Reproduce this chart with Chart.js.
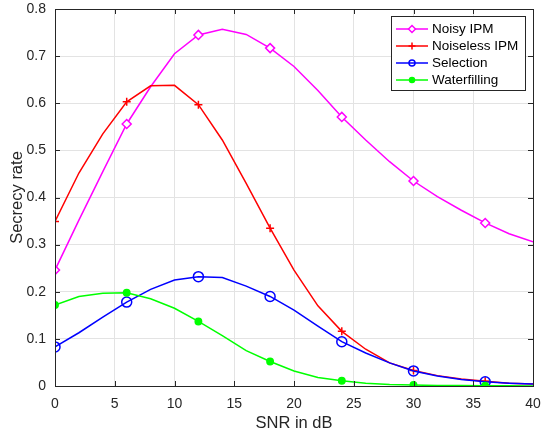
<!DOCTYPE html>
<html>
<head>
<meta charset="utf-8">
<script src="https://cdn.jsdelivr.net/npm/chart.js@4/dist/chart.umd.min.js"></script>
<style>
  html, body { margin: 0; padding: 0; background: #fff; }
  #wrap { width: 544px; height: 434px; }
</style>
</head>
<body>
<div id="wrap"><canvas id="chart" width="544" height="434"></canvas></div>
<script>
// SNR grid (dB), markers every 3rd sample
const snr = [0, 2, 4, 6, 8, 10, 12, 14, 16, 18, 20, 22, 24, 26, 28, 30, 32, 34, 36, 38, 40]
const noisyIPM = [0.246, 0.352, 0.455, 0.556, 0.635, 0.705, 0.745, 0.757, 0.746, 0.717, 0.678, 0.627, 0.571, 0.522, 0.476, 0.435, 0.402, 0.373, 0.346, 0.323, 0.306]
const noiselessIPM = [0.349, 0.452, 0.535, 0.603, 0.637, 0.638, 0.597, 0.522, 0.43, 0.335, 0.246, 0.17, 0.116, 0.078, 0.049, 0.033, 0.022, 0.015, 0.01, 0.006, 0.004]
const selection = [0.083, 0.113, 0.146, 0.178, 0.205, 0.225, 0.232, 0.23, 0.212, 0.19, 0.161, 0.127, 0.094, 0.07, 0.049, 0.032, 0.021, 0.014, 0.009, 0.006, 0.004]
const waterfilling = [0.172, 0.19, 0.197, 0.198, 0.185, 0.165, 0.137, 0.107, 0.075, 0.052, 0.032, 0.018, 0.011, 0.006, 0.003, 0.002, 0.001, 0.001, 0.0005, 0.0003, 0.0002]
const seriesNames = ["Noisy IPM", "Noiseless IPM", "Selection", "Waterfilling"]
const xTicks = [0, 5, 10, 15, 20, 25, 30, 35, 40]
const yTicks = [0, 0.1, 0.2, 0.3, 0.4, 0.5, 0.6, 0.7, 0.8]

const FONT = "'Liberation Sans', Arial, Helvetica, sans-serif"
const AXIS = '#262626'

function pts(arr) {
  return arr.map((v, i) => ({x: snr[i], y: v}))
}
function markerEvery3(r) {
  return ctx => (ctx.dataIndex % 3 === 0 ? r : 0)
}

const styles = [
  {color: '#ff00ff', pointStyle: 'rectRot', r: 4.5, lr: 3.5, fill: '#fff'},
  {color: '#ff0000', pointStyle: 'cross', r: 4, lr: 3.5, fill: '#ff0000'},
  {color: '#0000ff', pointStyle: 'circle', r: 5, lr: 3, fill: 'rgba(0,0,0,0)'},
  {color: '#00ff00', pointStyle: 'circle', r: 3.2, lr: 2.5, fill: '#00ff00'}
]
const values = [noisyIPM, noiselessIPM, selection, waterfilling]

const datasets = values.map((v, k) => ({
  label: seriesNames[k],
  data: pts(v),
  borderColor: styles[k].color,
  backgroundColor: styles[k].fill,
  borderWidth: 1.5,
  pointStyle: styles[k].pointStyle,
  pointRadius: markerEvery3(styles[k].r),
  pointHoverRadius: 0,
  pointBorderWidth: 1.5,
  pointBorderColor: styles[k].color,
  pointBackgroundColor: styles[k].fill,
  tension: 0,
  order: 4 - k
}))

// matlab style box, inward ticks, axis titles and legend
const matlabFrame = {
  id: 'matlabFrame',
  afterDraw(chart) {
    const c = chart.ctx
    const a = chart.chartArea
    const xs = chart.scales.x, ys = chart.scales.y
    c.save()
    c.strokeStyle = AXIS
    c.lineWidth = 1
    c.strokeRect(Math.round(a.left) + 0.5, Math.round(a.top) + 0.5, Math.round(a.right - a.left), Math.round(a.bottom - a.top))
    const tl = 5
    c.beginPath()
    xTicks.forEach(t => {
      const px = Math.round(xs.getPixelForValue(t)) + 0.5
      c.moveTo(px, a.bottom); c.lineTo(px, a.bottom - tl)
      c.moveTo(px, a.top); c.lineTo(px, a.top + tl)
    })
    yTicks.forEach(t => {
      const py = Math.round(ys.getPixelForValue(t)) + 0.5
      c.moveTo(a.left, py); c.lineTo(a.left + tl, py)
      c.moveTo(a.right, py); c.lineTo(a.right - tl, py)
    })
    c.stroke()

    // axis titles
    c.fillStyle = AXIS
    c.font = '16.5px ' + FONT
    c.textAlign = 'center'
    c.textBaseline = 'middle'
    c.fillText('SNR in dB', (a.left + a.right) / 2, 423)
    c.save()
    c.translate(17, (a.top + a.bottom) / 2)
    c.rotate(-Math.PI / 2)
    c.fillText('Secrecy rate', 0, 0)
    c.restore()

    // legend
    const bx = 391, by = 16, bw = 134, bh = 74
    c.fillStyle = '#fff'
    c.fillRect(bx, by, bw, bh)
    c.strokeStyle = AXIS
    c.lineWidth = 1
    c.strokeRect(bx + 0.5, by + 0.5, bw, bh)
    c.font = '13.5px ' + FONT
    c.textAlign = 'left'
    seriesNames.forEach((name, k) => {
      const y = 29 + k * 17
      c.strokeStyle = styles[k].color
      c.lineWidth = 1.5
      c.beginPath()
      c.moveTo(396, y); c.lineTo(428, y)
      c.stroke()
      c.fillStyle = styles[k].fill
      c.strokeStyle = styles[k].color
      Chart.helpers.drawPoint(c, {
        pointStyle: styles[k].pointStyle,
        radius: styles[k].lr,
        borderWidth: 1.5,
        rotation: 0
      }, 412, y)
      c.fillStyle = '#000'
      c.fillText(name, 432, y + 0.5)
    })
    c.restore()
  }
}

new Chart(document.getElementById('chart'), {
  type: 'line',
  data: {datasets: datasets},
  options: {
    responsive: false,
    animation: false,
    layout: {padding: {top: 9, right: 11, left: 0, bottom: 0}},
    plugins: {
      legend: {display: false},
      tooltip: {enabled: false}
    },
    scales: {
      x: {
        type: 'linear',
        min: 0,
        max: 40,
        afterFit(scale) {
          scale.height = 48
          scale.paddingLeft = 0
          scale.paddingRight = 0
        },
        afterBuildTicks(scale) { scale.ticks = xTicks.map(v => ({value: v})) },
        grid: {color: '#e3e3e3', drawTicks: false, lineWidth: 1},
        border: {display: false},
        ticks: {color: AXIS, font: {family: FONT, size: 14}, padding: 10, maxRotation: 0}
      },
      y: {
        min: 0,
        max: 0.8,
        afterFit(scale) {
          scale.width = 55
          scale.paddingTop = 0
          scale.paddingBottom = 0
        },
        afterBuildTicks(scale) { scale.ticks = yTicks.map(v => ({value: v})) },
        grid: {color: '#e3e3e3', drawTicks: false, lineWidth: 1},
        border: {display: false},
        ticks: {
          color: AXIS,
          font: {family: FONT, size: 14},
          padding: 9,
          callback: v => (v === 0 ? '0' : v.toFixed(1))
        }
      }
    }
  },
  plugins: [matlabFrame]
})
</script>
</body>
</html>
